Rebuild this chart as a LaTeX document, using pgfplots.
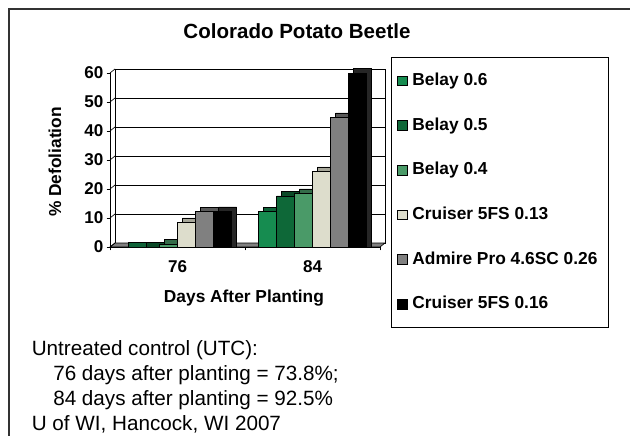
\documentclass[border=0pt]{standalone}
\usepackage{pgfplots}
\pgfplotsset{compat=1.18}
\usepackage{pgfplotstable}
\usepackage{fontspec}
\setmainfont{Liberation Sans}

\definecolor{bA}{RGB}{22,140,80}
\definecolor{bB}{RGB}{14,104,56}
\definecolor{bC}{RGB}{74,154,104}
\definecolor{cA}{RGB}{221,221,204}
\definecolor{adm}{RGB}{128,128,128}
\definecolor{cB}{RGB}{0,0,0}

\pgfplotstableread{
x b06 b05 b04 c13 adm c16
0 0 0 1 8.5 12.2 12.3
1 12.2 17.6 18.5 26.1 44.7 60
}\data

\begin{document}
\begin{tikzpicture}[x=0.75pt,y=-0.75pt]
\useasboundingbox (0,0) rectangle (630,435);
\draw[line width=1.5pt, black!80] (9,440) -- (9,9) -- (640,9);

% back wall
\begin{axis}[at={(86.25pt,-182.25pt)}, anchor=south west, scale only axis,
  width=202.5pt, height=130.5pt,
  xmin=-0.5, xmax=1.5, ymin=0, ymax=60,
  ytick={0,10,...,60}, xtick=\empty, yticklabels={}, major tick length=0pt,
  ymajorgrids, grid style={black, line width=0.6pt},
  axis line style={black, line width=0.6pt}]
\end{axis}

% floor and left wall
\filldraw[fill=adm, draw=black, line width=0.5pt] (110,247) -- (380,247) -- (385,243) -- (115,243) -- cycle;
\foreach \v in {0,10,...,60} \draw[line width=0.5pt] (110,{247-2.9*\v}) -- (115,{243-2.9*\v});

\begin{axis}[at={(82.5pt,-185.25pt)}, anchor=south west, scale only axis,
  width=202.5pt, height=130.5pt,
  xmin=-0.5, xmax=1.5, ymin=0, ymax=60,
  axis x line*=bottom, axis y line*=left,
  axis line style={-, black, line width=0.6pt},
  ytick={0,10,...,60},
  xtick={-0.5,0.5,1.5}, xticklabels={},
  extra x ticks={0,1}, extra x tick labels={76,84},
  extra x tick style={major tick length=0pt},
  tick align=outside, major tick length=2.5pt,
  tick style={black, line width=0.6pt},
  /pgf/number format/assume math mode=true,
  tick label style={font=\bfseries\fontsize{12.8}{14}\selectfont},
  yticklabel style={xshift=1pt},
  xticklabel style={yshift=-7pt},
  every axis title shift=0pt,
  title={Colorado Potato Beetle},
  title style={at={(0.6926,1.241)}, anchor=center, font=\bfseries\fontsize{15.4}{18}\selectfont},
  xlabel={Days After Planting},
  xlabel style={at={(0.496,-0.293)}, anchor=center, font=\bfseries\fontsize{13}{15}\selectfont},
  ylabel={\% Defoliation},
  ylabel style={at={(-0.204,0.489)}, anchor=center, rotate=0, font=\bfseries\fontsize{13}{15}\selectfont},
  ybar, bar width=0.13333,
  legend image code/.code={\draw[#1, ybar=0pt, bar shift=0pt] (0pt,-3.7pt) rectangle (7.4pt,3.7pt);},
  legend cell align=left,
  legend style={at={(1.0407,1.092)}, anchor=north west, draw=black, line width=0.6pt,
    font=\bfseries\fontsize{13}{15}\selectfont, row sep=20.5pt,
    inner xsep=4.5pt, inner ysep=11pt,
    nodes={text height=10pt, text depth=3pt, inner ysep=0pt, inner xsep=3.5pt}},
  clip=false]
% shadows (depth faces)
\addplot[bar shift=-0.2963, fill=bA!70!black, draw=black, line width=0.4pt, forget plot] table[x=x, y expr=\thisrow{b06}+1.55] {\data};
\addplot[bar shift=-0.1630, fill=bB!70!black, draw=black, line width=0.4pt, forget plot] table[x=x, y expr=\thisrow{b05}+1.55] {\data};
\addplot[bar shift=-0.0296, fill=bC!70!black, draw=black, line width=0.4pt, forget plot] table[x=x, y expr=\thisrow{b04}+1.55] {\data};
\addplot[bar shift=0.1037, fill=cA!75!black, draw=black, line width=0.4pt, forget plot] table[x=x, y expr=\thisrow{c13}+1.55] {\data};
\addplot[bar shift=0.2370, fill=adm!70!black, draw=black, line width=0.4pt, forget plot] table[x=x, y expr=\thisrow{adm}+1.55] {\data};
\addplot[bar shift=0.3704, fill=black!85, draw=black, line width=0.4pt, forget plot] table[x=x, y expr=\thisrow{c16}+1.55] {\data};
% fronts
\addplot[bar shift=-0.3333, fill=bA, draw=black, line width=0.4pt] table[x=x, y=b06] {\data};
\addplot[bar shift=-0.2, fill=bB, draw=black, line width=0.4pt] table[x=x, y=b05] {\data};
\addplot[bar shift=-0.0667, fill=bC, draw=black, line width=0.4pt] table[x=x, y=b04] {\data};
\addplot[bar shift=0.0667, fill=cA, draw=black, line width=0.4pt] table[x=x, y=c13] {\data};
\addplot[bar shift=0.2, fill=adm, draw=black, line width=0.4pt] table[x=x, y=adm] {\data};
\addplot[bar shift=0.3333, fill=cB, draw=black, line width=0.4pt] table[x=x, y=c16] {\data};
\legend{Belay 0.6, Belay 0.5, Belay 0.4, Cruiser 5FS 0.13, Admire Pro 4.6SC 0.26, Cruiser 5FS 0.16}
\end{axis}

\begin{scope}[font=\fontsize{15.5}{18}\selectfont]
\node[anchor=base west, inner sep=0pt] at (31.5,355) {Untreated control (UTC):};
\node[anchor=base west, inner sep=0pt] at (53,380) {76 days after planting = 73.8\%;};
\node[anchor=base west, inner sep=0pt] at (53,405) {84 days after planting = 92.5\%};
\node[anchor=base west, inner sep=0pt] at (31.5,430) {U of WI, Hancock, WI 2007};
\end{scope}
\end{tikzpicture}
\end{document}
